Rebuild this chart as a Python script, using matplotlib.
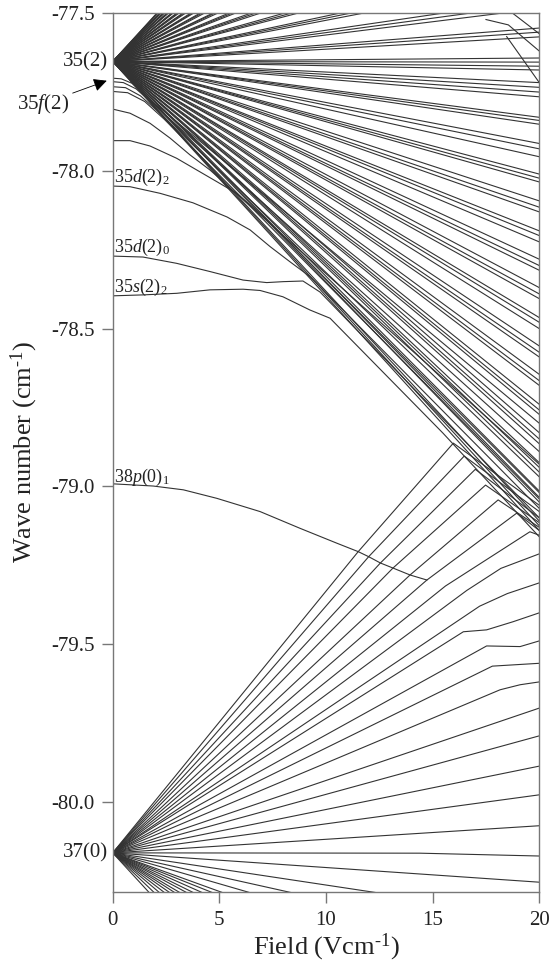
import matplotlib
matplotlib.use("Agg")
import matplotlib.pyplot as plt

plt.rcParams["font.family"] = ["Liberation Serif", "DejaVu Serif"]
plt.rcParams["mathtext.fontset"] = "custom"
plt.rcParams["mathtext.rm"] = "Liberation Serif"
plt.rcParams["mathtext.it"] = "Liberation Serif:italic"
plt.rcParams["mathtext.default"] = "regular"
plt.rcParams["axes.unicode_minus"] = False

FIELD_MAX = 20.0
LEVEL_35 = -77.653   # 35(2) zero-field position
LEVEL_37 = -80.162   # 37(0) zero-field position

# n=35 manifold: wave number of each straight Stark line at 20 V/cm
# (bundles of nearly degenerate lines, from the top of the fan down)
UPPER_FAN_END = [
    -76.17, -76.19, -76.21,
    -76.26, -76.28, -76.30,
    -76.35, -76.37, -76.39,
    -76.445, -76.46, -76.48,
    -76.54, -76.555, -76.57,
    -76.63, -76.645, -76.665,
    -76.72, -76.735, -76.755,
    -76.815, -76.83, -76.845,
    -76.905, -76.92, -76.94,
    -77.0, -77.012, -77.03,
    -77.09, -77.105, -77.12,
    -77.18, -77.195, -77.21,
    -77.272, -77.287, -77.30,
    -77.365, -77.378, -77.392,
    -77.455, -77.47, -77.485,
    -77.547, -77.56, -77.575,
    -77.642, -77.655, -77.668, -77.68,
    -77.72, -77.735, -77.75, -77.765,
    -77.83, -77.84, -77.852,
    -77.913, -77.93, -77.955,
    -78.01, -78.023, -78.035,
    -78.095, -78.115, -78.13,
    -78.19, -78.205, -78.225,
    -78.28, -78.30, -78.315,
    -78.37, -78.39, -78.405,
    -78.465, -78.48, -78.50,
    -78.555, -78.575, -78.59,
    -78.645, -78.665, -78.68,
    -78.74, -78.758, -78.772,
    -78.83, -78.85, -78.865,
    -78.925, -78.94, -78.955,
    -79.015, -79.035, -79.05,
    -79.11, -79.125, -79.14,
]

# anticrossing kinks with the manifold above, top right corner
TOP_KINKS = [
    [(17.5, -77.52), (18.55, -77.537), (20.0, -77.62)],
    [(18.47, -77.574), (20.0, -77.72)],
    [(18.75, -77.5), (20.0, -77.565)],
]

# low-l states of 35(2) that bend down into the manifold
F35_LINES = [
    [(0, -77.706), (0.4, -77.708), (0.9, -77.722), (1.5, -77.76), (20, -78.80)],
    [(0, -77.717), (0.5, -77.72), (1.1, -77.74), (1.8, -77.782), (20, -78.89)],
    [(0, -77.733), (0.6, -77.736), (1.3, -77.762), (2.1, -77.81), (20, -78.97)],
    [(0, -77.748), (0.7, -77.752), (1.5, -77.78), (2.4, -77.835), (20, -79.04)],
]
G35_LINE = [(0, -77.804), (0.81, -77.817), (1.75, -77.849), (2.69, -77.896),
            (3.62, -77.949), (4.56, -77.997), (20, -78.93)]
H35_LINE = [(0, -77.904), (0.81, -77.904), (1.75, -77.921), (3.0, -77.96),
            (3.94, -77.997), (4.88, -78.034), (5.81, -78.071), (7.0, -78.14),
            (20, -79.02)]
D35_2 = [(0, -78.048), (0.81, -78.05), (2.22, -78.071), (3.76, -78.101),
         (5.36, -78.146), (6.44, -78.187), (7.38, -78.24), (8.31, -78.288),
         (9.25, -78.335), (20, -79.07)]
D35_0 = [(0, -78.27), (1.42, -78.273), (3.0, -78.293), (4.56, -78.319),
         (6.11, -78.346), (7.22, -78.354), (8.0, -78.351), (8.92, -78.349),
         (9.72, -78.384), (20, -79.10)]
S35_2 = [(0, -78.396), (1.42, -78.393), (3.0, -78.388), (4.56, -78.377),
         (6.11, -78.375), (6.91, -78.379), (7.98, -78.399), (9.25, -78.441),
         (10.19, -78.467), (15.48, -78.831), (20, -79.16)]
P38_1 = [(0, -78.992), (1.9, -78.999), (3.31, -79.011), (4.88, -79.038),
         (6.91, -79.08), (8.78, -79.133), (10.5, -79.18), (11.51, -79.207),
         (12.0, -79.223), (12.55, -79.243), (13.14, -79.259), (13.94, -79.281),
         (14.73, -79.297)]

# n=37 manifold, blue-shifted lines (points after the zero-field origin)
LOWER_RISE = [
    [(20, -80.076)],
    [(20, -79.978)],
    [(20, -79.887)],
    [(20, -79.791)],
    [(20, -79.703)],
    [(18.16, -79.645), (19.1, -79.629), (20, -79.62)],
    [(17.8, -79.57), (20, -79.561)],
    [(17.53, -79.506), (19.1, -79.508), (20, -79.49)],
    [(16.44, -79.461), (17.53, -79.455), (18.78, -79.429), (20, -79.401)],
    [(17.2, -79.38), (18.5, -79.34), (20, -79.306)],
    [(16.6, -79.33), (18.2, -79.26), (20, -79.214)],
    [(15.6, -79.316), (19.56, -79.144), (20, -79.155)],
    [(14.73, -79.297), (18.94, -79.085), (20, -79.14)],
    [(13.94, -79.281), (18.07, -79.043), (20, -79.13)],
    [(13.14, -79.259), (17.48, -78.996), (20, -79.115)],
    [(12.55, -79.243), (17.0, -78.946), (20, -79.10)],
    [(12.0, -79.223), (16.48, -78.904), (20, -79.08)],
    [(11.51, -79.207), (15.97, -78.863), (20, -79.06)],
]
LOWER_FLAT = [(0, LEVEL_37), (14.4, -80.163), (20, -80.172)]
# n=37 manifold, red-shifted lines: wave number at 20 V/cm
LOWER_FALL_END = [-80.255, -80.366, -80.463, -80.554, -80.651, -80.701,
                  -80.762, -80.828, -80.888, -80.962, -81.028, -81.105,
                  -81.20, -81.312, -81.457, -81.635]

Y_TICKS = [-77.5, -78.0, -78.5, -79.0, -79.5, -80.0]
X_TICKS = [0, 5, 10, 15, 20]

LINE = dict(color="#333333", lw=0.8, solid_joinstyle="round")
GREY = "#777777"
INK = "#222222"


def draw(ax, points, start=None):
    if start is not None:
        points = [start] + list(points)
    xs = [p[0] for p in points]
    ys = [p[1] for p in points]
    ax.plot(xs, ys, **LINE)


fig = plt.figure(figsize=(5.55, 9.65), dpi=100)
ax = fig.add_axes([0.2031, 0.0760, 0.7686, 0.9103])

for end in UPPER_FAN_END:
    draw(ax, [(0, LEVEL_35), (FIELD_MAX, end)])
for kink in TOP_KINKS:
    draw(ax, kink)
for curve in F35_LINES + [G35_LINE, H35_LINE, D35_2, D35_0, S35_2, P38_1]:
    draw(ax, curve)
for curve in LOWER_RISE:
    draw(ax, curve, start=(0, LEVEL_37))
draw(ax, LOWER_FLAT)
for end in LOWER_FALL_END:
    draw(ax, [(0, LEVEL_37), (FIELD_MAX, end)])

ax.set_xlim(0, FIELD_MAX)
ax.set_ylim(-80.285, -77.5)
ax.set_xticks(X_TICKS)
ax.set_yticks(Y_TICKS)
ax.set_yticklabels(["%.1f" % v for v in Y_TICKS])

for side in ax.spines.values():
    side.set_color(GREY)
    side.set_linewidth(1.0)
ax.tick_params(direction="out", length=8, width=1, color=GREY,
               labelcolor=INK, labelsize=15)
ax.tick_params(axis="y", pad=5)
ax.tick_params(axis="x", pad=6)

ax.set_xlabel(r"Field (Vcm$^{\text{-1}}$)", fontsize=19, labelpad=1,
              color=INK)
ax.set_ylabel(r"Wave number (cm$^{\text{-1}}$)", fontsize=19, labelpad=8,
              color=INK)

# manifold labels at zero field
ax.text(-0.22, LEVEL_35, "35(2)", ha="right", va="center", fontsize=15,
        color=INK)
ax.text(-0.22, LEVEL_37, "37(0)", ha="right", va="center", fontsize=15,
        color=INK)
ax.annotate(r"35$\mathit{f}$(2)", xy=(-0.28, -77.714), xytext=(-3.29, -77.788),
            ha="center", va="center", fontsize=15, color=INK,
            annotation_clip=False,
            arrowprops=dict(arrowstyle="-|>", color="black", lw=0.6,
                            mutation_scale=20, shrinkA=1, shrinkB=0))

# state labels sitting on their curves
state_labels = [
    (-78.034, r"35$\mathit{d}$(2)$_2$"),
    (-78.256, r"35$\mathit{d}$(2)$_0$"),
    (-78.383, r"35$\mathit{s}$(2)$_2$"),
    (-78.985, r"38$\mathit{p}$(0)$_1$"),
]
for y, label in state_labels:
    ax.text(0.05, y, label, ha="left", va="baseline", fontsize=13,
            color=INK)

fig.savefig("out.png", dpi=100)
